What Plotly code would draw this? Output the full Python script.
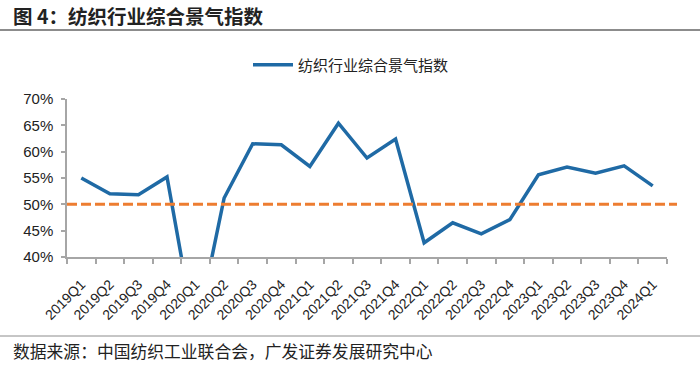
import plotly.graph_objects as go

categories = ["2019Q1", "2019Q2", "2019Q3", "2019Q4",
              "2020Q1", "2020Q2", "2020Q3", "2020Q4",
              "2021Q1", "2021Q2", "2021Q3", "2021Q4",
              "2022Q1", "2022Q2", "2022Q3", "2022Q4",
              "2023Q1", "2023Q2", "2023Q3", "2023Q4",
              "2024Q1"]
index_values = [55.0, 52.0, 51.8, 55.2,
                25.0, 51.2, 61.5, 61.3,
                57.2, 65.4, 58.8, 62.4,
                42.7, 46.5, 44.4, 47.1,
                55.6, 57.1, 55.9, 57.3,
                53.5]
threshold = 50
y_ticks = [40, 45, 50, 55, 60, 65, 70]
y_tick_labels = [f"{v}%" for v in y_ticks]

series_name = "纺织行业综合景气指数"
title_text = "图 4：纺织行业综合景气指数"
source_text = "数据来源：中国纺织工业联合会，广发证券发展研究中心"

W, H = 700, 367
L, R, T, B = 67, 33, 99, 110
PW, PH = W - L - R, H - T - B


def px_x(x):
    return (x - L) / PW


def px_y(y):
    return (H - B - y) / PH


fig = go.Figure()
fig.add_trace(go.Scatter(
    x=categories, y=index_values, mode="lines", name=series_name,
    line=dict(color="#1F6AA5", width=3.5),
))

fig.add_shape(type="line", xref="paper", yref="y", x0=0, x1=px_x(677),
              y0=threshold, y1=threshold,
              line=dict(color="#ED7D31", width=3, dash="10px,4px"))

fig.update_xaxes(
    type="category", range=[-0.5, len(categories) - 0.5],
    showline=True, linecolor="#A6A6A6", linewidth=1.5,
    ticks="outside", ticklen=5, tickcolor="#A6A6A6", tickwidth=1.5,
    tickson="boundaries", tickangle=-45, showgrid=False,
    tickfont=dict(family="Liberation Sans, Arial", size=14, color="#222"),
    ticklabelstandoff=12, automargin=False,
)
fig.update_yaxes(
    range=[40, 70], tickvals=y_ticks, ticktext=y_tick_labels,
    showline=True, linecolor="#A6A6A6", linewidth=1.5,
    ticks="outside", ticklen=4, tickcolor="#A6A6A6", tickwidth=1.5,
    showgrid=False, zeroline=False, automargin=False,
    tickfont=dict(family="Liberation Sans, Arial", size=15, color="#222"),
    ticklabelstandoff=5,
)

fig.update_layout(
    width=W, height=H,
    margin=dict(l=L, r=R, t=T, b=B, autoexpand=False),
    paper_bgcolor="white", plot_bgcolor="white",
    showlegend=True,
    legend=dict(orientation="h", xref="container", yref="container",
                x=351 / W, xanchor="center", y=1 - 65 / H, yanchor="middle",
                font=dict(family="Noto Sans CJK SC", size=15, color="#222"),
                itemwidth=40),
    annotations=[
        dict(text="<b>" + title_text + "</b>", xref="paper", yref="paper",
             x=px_x(11), xanchor="left", y=px_y(15), yanchor="middle", showarrow=False,
             font=dict(family="Noto Sans CJK SC", size=19.5, color="#222")),
        dict(text=source_text, xref="paper", yref="paper",
             x=px_x(11), xanchor="left", y=px_y(351), yanchor="middle", showarrow=False,
             font=dict(family="Noto Sans CJK SC", size=16.8, color="#222")),
    ],
    shapes=list(fig.layout.shapes) + [
        dict(type="line", xref="paper", yref="paper", x0=px_x(0), x1=px_x(W),
             y0=px_y(30), y1=px_y(30), line=dict(color="#8C8C8C", width=2)),
        dict(type="line", xref="paper", yref="paper", x0=px_x(0), x1=px_x(W),
             y0=px_y(336), y1=px_y(336), line=dict(color="#8C8C8C", width=1)),
    ],
)

fig.write_html("out.html", config={"displayModeBar": False},
               post_script="document.body.style.margin='0';")
